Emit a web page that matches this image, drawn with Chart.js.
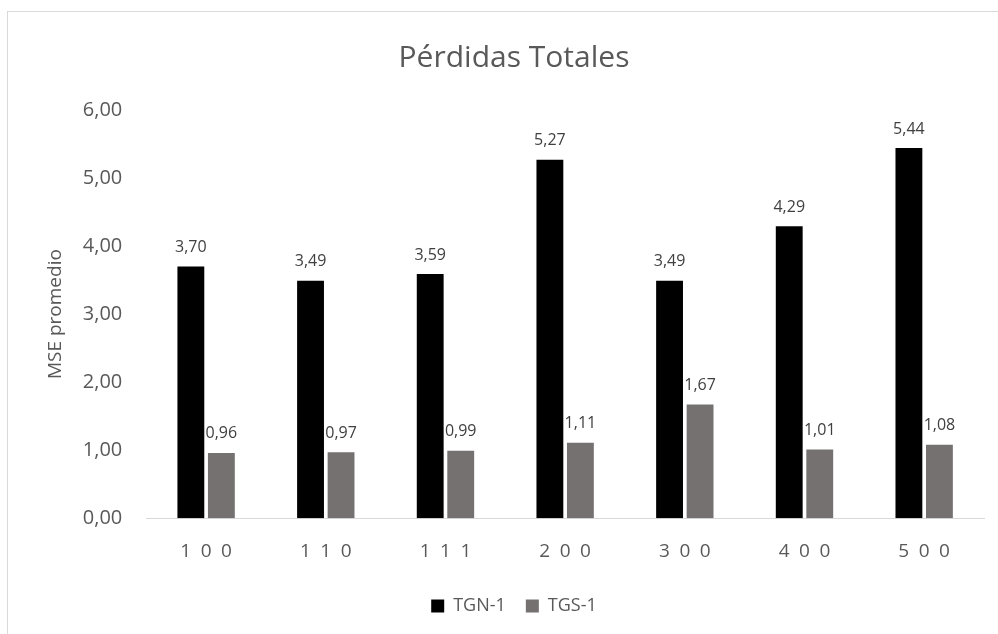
<!DOCTYPE html>
<html>
<head>
<meta charset="utf-8">
<script src="https://cdn.jsdelivr.net/npm/chart.js@4.4.0/dist/chart.umd.min.js"></script>
<style>
  html, body { margin: 0; padding: 0; background: #fff; }
  #wrap { position: relative; width: 998px; height: 634px; overflow: hidden; }
  #frame { position: absolute; left: 7px; top: 11px; width: 1100px; height: 700px; border: 1px solid #d9d9d9; box-sizing: border-box; }
  canvas { position: absolute; left: 0; top: 0; }
</style>
</head>
<body>
<div id="wrap">
  <div id="frame"></div>
  <canvas id="myChart" width="998" height="634"></canvas>
</div>
<script>
const categories = ['1 0 0', '1 1 0', '1 1 1', '2 0 0', '3 0 0', '4 0 0', '5 0 0'];
const tgn = [3.70, 3.49, 3.59, 5.27, 3.49, 4.29, 5.44];
const tgs = [0.96, 0.97, 0.99, 1.11, 1.67, 1.01, 1.08];

const font = "'Open Sans', 'Noto Sans', sans-serif";
const textColor = '#595959';

// draws the value above each bar, with a comma decimal
const valueLabels = {
    id: 'valueLabels',
    afterDatasetsDraw(chart) {
        const ctx = chart.ctx;
        ctx.save();
        ctx.font = '16px ' + font;
        ctx.fillStyle = '#404040';
        ctx.textAlign = 'center';
        ctx.textBaseline = 'bottom';
        chart.data.datasets.forEach((ds, i) => {
            chart.getDatasetMeta(i).data.forEach((bar, j) => {
                ctx.fillText(ds.data[j].toFixed(2).replace('.', ','), bar.x, bar.y - 11);
            });
        });
        ctx.restore();
    }
};

const ctx = document.getElementById('myChart');

new Chart(ctx, {
    type: 'bar',
    data: {
        labels: categories,
        datasets: [
            {
                label: 'TGN-1',
                data: tgn,
                backgroundColor: '#000000',
                barPercentage: 0.88,
                categoryPercentage: 0.51
            },
            {
                label: 'TGS-1',
                data: tgs,
                backgroundColor: '#767171',
                barPercentage: 0.88,
                categoryPercentage: 0.51
            }
        ]
    },
    options: {
        responsive: false,
        animation: false,
        layout: {
            padding: { left: 44, right: 14, top: 40, bottom: 9 }
        },
        plugins: {
            title: {
                display: true,
                text: 'Pérdidas Totales',
                color: textColor,
                font: { family: font, size: 30, weight: 'normal' },
                padding: { top: 0, bottom: 34 }
            },
            legend: {
                position: 'bottom',
                labels: {
                    color: textColor,
                    font: { family: font, size: 18 },
                    boxWidth: 13,
                    boxHeight: 13,
                    padding: 20
                }
            },
            tooltip: { enabled: false }
        },
        scales: {
            x: {
                grid: { display: false },
                border: { color: '#d9d9d9', width: 1 },
                ticks: {
                    color: textColor,
                    font: { family: font, size: 19 },
                    padding: 14,
                    callback: function(v) {
                        return this.getLabelForValue(v).split(' ').join('\u2002');
                    }
                }
            },
            y: {
                min: 0,
                max: 6,
                grid: { display: false },
                border: { display: false },
                title: {
                    display: true,
                    text: 'MSE promedio',
                    color: textColor,
                    font: { family: font, size: 19 },
                    padding: 0
                },
                ticks: {
                    stepSize: 1,
                    color: textColor,
                    font: { family: font, size: 20 },
                    padding: 16,
                    callback: v => v.toFixed(2).replace('.', ',')
                }
            }
        }
    },
    plugins: [valueLabels]
});
</script>
</body>
</html>
